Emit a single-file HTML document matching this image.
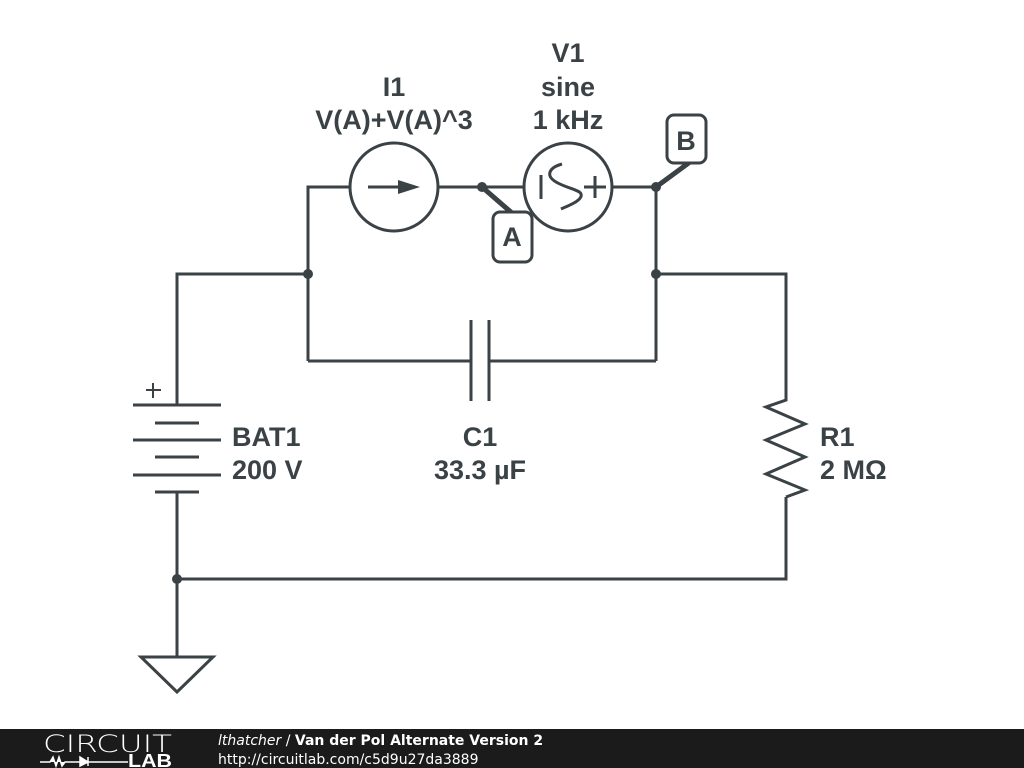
<!DOCTYPE html>
<html><head><meta charset="utf-8"><style>
html,body{margin:0;padding:0;background:#fff;width:1024px;height:768px;overflow:hidden}
svg{display:block}
.t{font-family:"Liberation Sans",sans-serif;font-weight:bold;font-size:27px;fill:#3a4246}
</style></head><body>
<svg width="1024" height="768" viewBox="0 0 1024 768">
<g stroke="#3a4246" stroke-width="3" fill="none" stroke-linecap="butt">
<path d="M308 361 V187 H350 M438 187 H524 M612 187 H656 V361"/>
<circle cx="394" cy="187" r="44"/>
<circle cx="568" cy="187" r="44"/>
<path d="M368 187 H408"/>
<path d="M541 175 V199"/>
<path d="M562 164 C548 168 546 176 556 182 C566 188 580 190 581 194 C583 200 570 205 561 209"/>
<path d="M584 187 H606 M595 176 V198"/>
<path d="M308 274 H177 V405"/>
<path d="M133 405 H221 M155 423 H199 M133 440 H221 M155 457 H199 M133 475 H221 M155 492 H199"/>
<path d="M146 390 H161 M153 383 V398" stroke-width="2"/>
<path d="M177 492 V657"/>
<path d="M141 657 H213 L177 692 Z"/>
<path d="M177 579 H786 V497"/>
<path d="M308 361 H471 M471 320 V401 M489 320 V401 M489 361 H656"/>
<path d="M656 274 H786 V400 L766 407 L805 424 L766 440 L805 457 L766 474 L805 490 L786 497"/>
<path d="M482 187 L512 213" stroke-width="5"/>
<path d="M656 187 L690 162" stroke-width="5"/>
<rect x="493" y="212" width="39" height="50" rx="7" fill="#fff"/>
<rect x="667" y="115" width="39" height="48" rx="7" fill="#fff"/>
</g>
<path d="M398 180 L420 187 L398 194 Z" fill="#3a4246"/>
<g fill="#3a4246"><circle cx="482" cy="187" r="5"/><circle cx="656" cy="187" r="5"/><circle cx="308" cy="274" r="5"/><circle cx="656" cy="274" r="5"/><circle cx="177" cy="579" r="5"/></g>
<text class="t" x="512" y="246" text-anchor="middle">A</text>
<text class="t" x="686" y="150" text-anchor="middle">B</text>
<text class="t" x="568" y="62" text-anchor="middle">V1</text>
<text class="t" x="568" y="96" text-anchor="middle">sine</text>
<text class="t" x="568" y="129" text-anchor="middle">1 kHz</text>
<text class="t" x="394" y="96" text-anchor="middle">I1</text>
<text class="t" x="394" y="129" text-anchor="middle">V(A)+V(A)^3</text>
<text class="t" x="232" y="446">BAT1</text>
<text class="t" x="232" y="479">200 V</text>
<text class="t" x="480" y="446" text-anchor="middle">C1</text>
<text class="t" x="480" y="479" text-anchor="middle">33.3 µF</text>
<text class="t" x="820" y="446">R1</text>
<text class="t" x="820" y="479">2 MΩ</text>
<rect x="0" y="729" width="1024" height="39" fill="#1b1b1b"/>
<text x="43" y="752" font-family="DejaVu Sans,sans-serif" font-weight="200" font-size="24" fill="#fff" textLength="129" lengthAdjust="spacingAndGlyphs">CIRCUIT</text>
<path d="M40 762 H50 L53 757 L56 766 L59 757 L62 766 L65 762 H80 M80 757 V766 L88 762 Z M88 757 V766 M88 762 H128" stroke="#fff" stroke-width="1.5" fill="#fff"/>
<text x="128" y="767" font-family="Liberation Sans,sans-serif" font-weight="bold" font-size="18" fill="#fff" textLength="44" lengthAdjust="spacingAndGlyphs">LAB</text>
<text x="218" y="745" font-family="DejaVu Sans,sans-serif" font-size="14" fill="#fff"><tspan font-style="italic">lthatcher</tspan> / <tspan font-weight="bold">Van der Pol Alternate Version 2</tspan></text>
<text x="218" y="764" font-family="DejaVu Sans,sans-serif" font-size="14" fill="#fff">http://circuitlab.com/c5d9u27da3889</text>
</svg>
</body></html>
